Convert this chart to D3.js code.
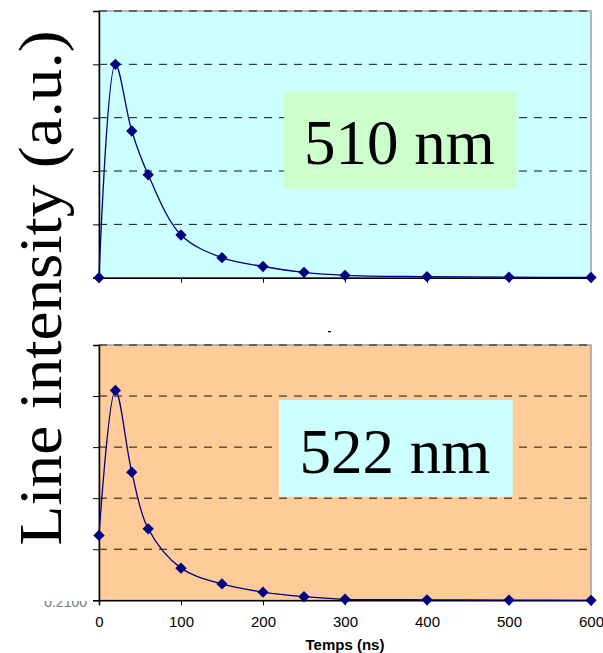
<!DOCTYPE html>
<html><head><meta charset="utf-8">
<script src="https://cdn.jsdelivr.net/npm/d3@7"></script>
<style>body{margin:0;background:#fff}svg{display:block}</style>
</head><body>
<script>
const times = [0, 20, 40, 60, 100, 150, 200, 250, 300, 400, 500, 600];
const int510 = [0, 4.0, 2.75, 1.93, 0.80, 0.375, 0.21, 0.10, 0.045, 0.02, 0.01, 0.005];
const int522 = [1.27, 4.11, 2.51, 1.40, 0.63, 0.32, 0.16, 0.07, 0.02, 0.01, 0.005, 0.0];
const xTicks = [0, 100, 200, 300, 400, 500, 600];
const yTicks = [0, 1, 2, 3, 4, 5];
const panels = [
  {name: "510 nm", values: int510, bg: "#ccffff", boxFill: "#ccffcc", top: 11, bottom: 277.7, box: [284, 91.7, 516.7, 188.7], baseline: 164},
  {name: "522 nm", values: int522, bg: "#ffcc99", boxFill: "#ccffff", top: 345, bottom: 600.3, box: [279, 400, 512.7, 496.7], baseline: 472.7}
];

const W = 603, H = 653;
const svg = d3.select("body").append("svg").attr("width", W).attr("height", H);
const x = d3.scaleLinear().domain([0, 600]).range([99, 591]);

panels.forEach((p, pi) => {
  const y = d3.scaleLinear().domain([0, 5]).range([p.bottom, p.top]);
  const g = svg.append("g");
  g.append("rect").attr("x", x(0)).attr("y", p.top).attr("width", x(600) - x(0)).attr("height", p.bottom - p.top)
    .attr("fill", p.bg).attr("stroke", "#a0a0a0").attr("stroke-width", 1.5);
  // gridlines
  g.selectAll(".grid").data(yTicks.slice(1)).join("line")
    .attr("x1", x(0)).attr("x2", x(600) - 3).attr("y1", d => y(d)).attr("y2", d => y(d))
    .attr("stroke", "#111").attr("stroke-width", 1).attr("stroke-dasharray", "8,7");
  // label box
  g.append("rect").attr("x", p.box[0]).attr("y", p.box[1]).attr("width", p.box[2] - p.box[0]).attr("height", p.box[3] - p.box[1])
    .attr("fill", p.boxFill);
  g.append("text").attr("x", (p.box[0] + p.box[2]) / 2 - 1).attr("y", p.baseline).attr("text-anchor", "middle")
    .attr("font-family", "'Liberation Serif','Times New Roman',serif").attr("font-size", 63).attr("fill", "#000").text(p.name);
  // axes
  const yAxis = d3.axisLeft(y).tickValues(yTicks).tickSize(6).tickFormat("");
  const ya = g.append("g").attr("transform", `translate(${x(0)},0)`).call(yAxis);
  ya.select(".domain").attr("stroke", "#000").attr("stroke-width", 1.5);
  ya.selectAll(".tick line").attr("stroke", "#000");
  const xAxis = d3.axisBottom(x).tickValues(xTicks).tickSize(5).tickFormat(pi === 1 ? d3.format("d") : "");
  const xa = g.append("g").attr("transform", `translate(0,${p.bottom})`).call(xAxis);
  xa.select(".domain").attr("stroke", "#000").attr("stroke-width", 1.5);
  xa.selectAll(".tick line").attr("stroke", "#000");
  xa.selectAll(".tick text").attr("font-family", "Arial, 'Liberation Sans', sans-serif").attr("font-size", 15)
    .attr("fill", "#000").attr("dy", null).attr("y", 27);
  // line
  const pts = times.map((t, i) => [t, p.values[i]]);
  const line = d3.line().x(d => x(d[0])).y(d => y(d[1])).curve(d3.curveCatmullRom.alpha(0.5));
  g.append("path").datum(pts).attr("d", line).attr("fill", "none").attr("stroke", "#000080").attr("stroke-width", 1.3);
  const sym = d3.symbol().type(d3.symbolSquare).size(64);
  g.selectAll(".pt").data(pts).join("path")
    .attr("transform", d => `translate(${x(d[0])},${y(d[1])}) rotate(45)`)
    .attr("d", sym).attr("fill", "#000080");
});

// partial hidden tick label fragment
svg.append("clipPath").attr("id", "frag").append("rect").attr("x", 0).attr("y", 601).attr("width", 94).attr("height", 20);
svg.append("text").attr("clip-path", "url(#frag)").attr("x", 87).attr("y", 607).attr("text-anchor", "end")
  .attr("font-family", "Arial, 'Liberation Sans', sans-serif").attr("font-size", 14).attr("fill", "#777").text("0.2100");

svg.append("rect").attr("x", 328).attr("y", 331).attr("width", 3).attr("height", 1.3).attr("fill", "#000");

// y label
svg.append("text").attr("transform", "translate(61,288) rotate(-90)").attr("text-anchor", "middle")
  .attr("font-family", "'Liberation Serif','Times New Roman',serif").attr("font-size", 61)
  .attr("textLength", 515).attr("lengthAdjust", "spacingAndGlyphs").attr("fill", "#000").text("Line intensity (a.u.)");

// x title
svg.append("text").attr("x", 345).attr("y", 650).attr("text-anchor", "middle")
  .attr("font-family", "Arial, 'Liberation Sans', sans-serif").attr("font-size", 15).attr("font-weight", "bold")
  .attr("fill", "#000").text("Temps (ns)");
</script>
</body></html>
